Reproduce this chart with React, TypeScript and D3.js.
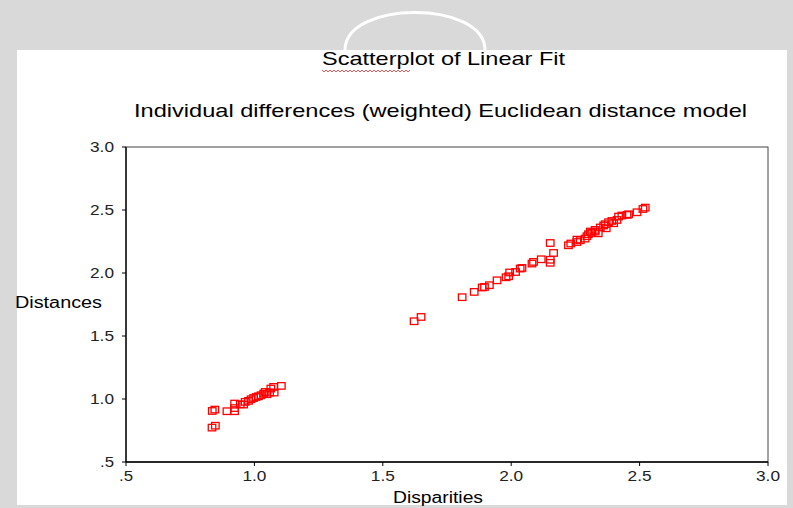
import React from "react";
import * as d3 from "d3";

const W = 793;
const H = 508;

const titleText = "Scatterplot of Linear Fit";
const subtitleText = "Individual differences (weighted) Euclidean distance model";
const xLabel = "Disparities";
const yLabel = "Distances";

const xTicks = [0.5, 1.0, 1.5, 2.0, 2.5, 3.0];
const yTicks = [0.5, 1.0, 1.5, 2.0, 2.5, 3.0];
const tickLabels = [".5", "1.0", "1.5", "2.0", "2.5", "3.0"];

// Disparities (x) and Distances (y)
const disparities = [
  0.835, 0.845, 0.834, 0.847, 0.892, 0.922, 0.922, 0.922, 0.944, 0.957,
  0.963, 0.976, 0.986, 0.996, 1.006, 1.015, 1.025, 1.035, 1.041, 1.048,
  1.058, 1.063, 1.074, 1.076, 1.104,
  1.621, 1.648,
  1.808, 1.855, 1.886, 1.895, 1.914, 1.944, 1.979, 1.989, 1.993, 2.016,
  2.034, 2.041, 2.080, 2.086, 2.116, 2.151, 2.151, 2.151, 2.164, 2.222,
  2.231, 2.255, 2.255, 2.268, 2.287, 2.294, 2.300, 2.313, 2.307, 2.326,
  2.326, 2.338, 2.346, 2.359, 2.365, 2.369, 2.378, 2.391, 2.398, 2.411,
  2.417, 2.430, 2.450, 2.456, 2.489, 2.512, 2.521,
];
const distances = [
  0.907, 0.918, 0.775, 0.790, 0.905, 0.905, 0.930, 0.966, 0.960, 0.958,
  0.979, 0.987, 1.000, 1.010, 1.018, 1.024, 1.032, 1.045, 1.058, 1.040,
  1.053, 1.085, 1.098, 1.053, 1.106,
  1.619, 1.653,
  1.810, 1.852, 1.887, 1.891, 1.905, 1.944, 1.968, 1.976, 2.006, 2.010,
  2.037, 2.042, 2.077, 2.090, 2.111, 2.107, 2.083, 2.240, 2.161, 2.222,
  2.236, 2.248, 2.267, 2.262, 2.275, 2.294, 2.310, 2.320, 2.331, 2.331,
  2.344, 2.317, 2.363, 2.379, 2.389, 2.357, 2.405, 2.415, 2.397, 2.423,
  2.450, 2.458, 2.463, 2.468, 2.484, 2.510, 2.521,
];

const x0 = 126, x1 = 768, y0 = 462, y1 = 147;

export default function App() {
  const x = d3.scaleLinear().domain([0.5, 3.0]).range([x0, x1]);
  const y = d3.scaleLinear().domain([0.5, 3.0]).range([y0, y1]);
  const pts = disparities.map((d, i) => ({ dx: d, dy: distances[i] }));

  // spell-check wavy underline (decoration)
  const wave: string[] = [];
  for (let px = 322, k = 0; px <= 410; px += 2, k++) {
    wave.push(`${k === 0 ? "M" : "L"}${px},${k % 2 === 0 ? 70 : 72}`);
  }

  const font = "'Liberation Sans', Arial, sans-serif";

  return (
    <svg
      width={W}
      height={H}
      style={{ position: "absolute", left: 0, top: 0 }}
      fontFamily={font}
    >
      <rect x={0} y={0} width={W} height={H} fill="#d9d9d9" />
      {/* watermark arc */}
      <path d="M345,50 C345,0 485,0 485,50" fill="none" stroke="#ffffff" strokeWidth={3} />
      <rect x={17} y={50} width={770} height={455} fill="#ffffff" />

      <text x={322} y={65} fontSize={18.5} textLength={243} lengthAdjust="spacingAndGlyphs" fill="#000">
        {titleText}
      </text>
      <path d={wave.join("")} fill="none" stroke="#e03030" strokeWidth={0.8} />
      <text x={134} y={117} fontSize={18.5} textLength={613} lengthAdjust="spacingAndGlyphs" fill="#000">
        {subtitleText}
      </text>

      {/* frame */}
      <rect x={x0} y={y1} width={x1 - x0} height={y0 - y1} fill="none" stroke="#444" strokeWidth={1} />
      <line x1={x0} x2={x0} y1={y1} y2={y0} stroke="#000" strokeWidth={1.3} />
      <line x1={x0} x2={x1} y1={y0} y2={y0} stroke="#000" strokeWidth={1.3} />

      {/* y ticks */}
      {yTicks.map((t, i) => (
        <g key={"y" + i}>
          <line x1={x0 - 4} x2={x0} y1={y(t)} y2={y(t)} stroke="#000" />
          <text
            x={114}
            y={y(t) + 5}
            fontSize={14}
            textAnchor="end"
            fill="#222"
            textLength={tickLabels[i].length === 2 ? 14 : 24}
            lengthAdjust="spacingAndGlyphs"
          >
            {tickLabels[i]}
          </text>
        </g>
      ))}
      {/* x ticks */}
      {xTicks.map((t, i) => (
        <g key={"x" + i}>
          <line x1={x(t)} x2={x(t)} y1={y0} y2={y0 + 4} stroke="#000" />
          <text
            x={x(t)}
            y={481}
            fontSize={14}
            textAnchor="middle"
            fill="#222"
            textLength={tickLabels[i].length === 2 ? 14 : 24}
            lengthAdjust="spacingAndGlyphs"
          >
            {tickLabels[i]}
          </text>
        </g>
      ))}

      <text x={15} y={308} fontSize={16} textLength={87} lengthAdjust="spacingAndGlyphs" fill="#000">
        {yLabel}
      </text>
      <text x={438} y={503} fontSize={16} textAnchor="middle" textLength={90} lengthAdjust="spacingAndGlyphs" fill="#000">
        {xLabel}
      </text>

      {pts.map((p, i) => (
        <rect
          key={i}
          x={x(p.dx) - 3.5}
          y={y(p.dy) - 3}
          width={7.5}
          height={6.5}
          fill="none"
          stroke="#ff0000"
          strokeWidth={1.3}
        />
      ))}
    </svg>
  );
}
